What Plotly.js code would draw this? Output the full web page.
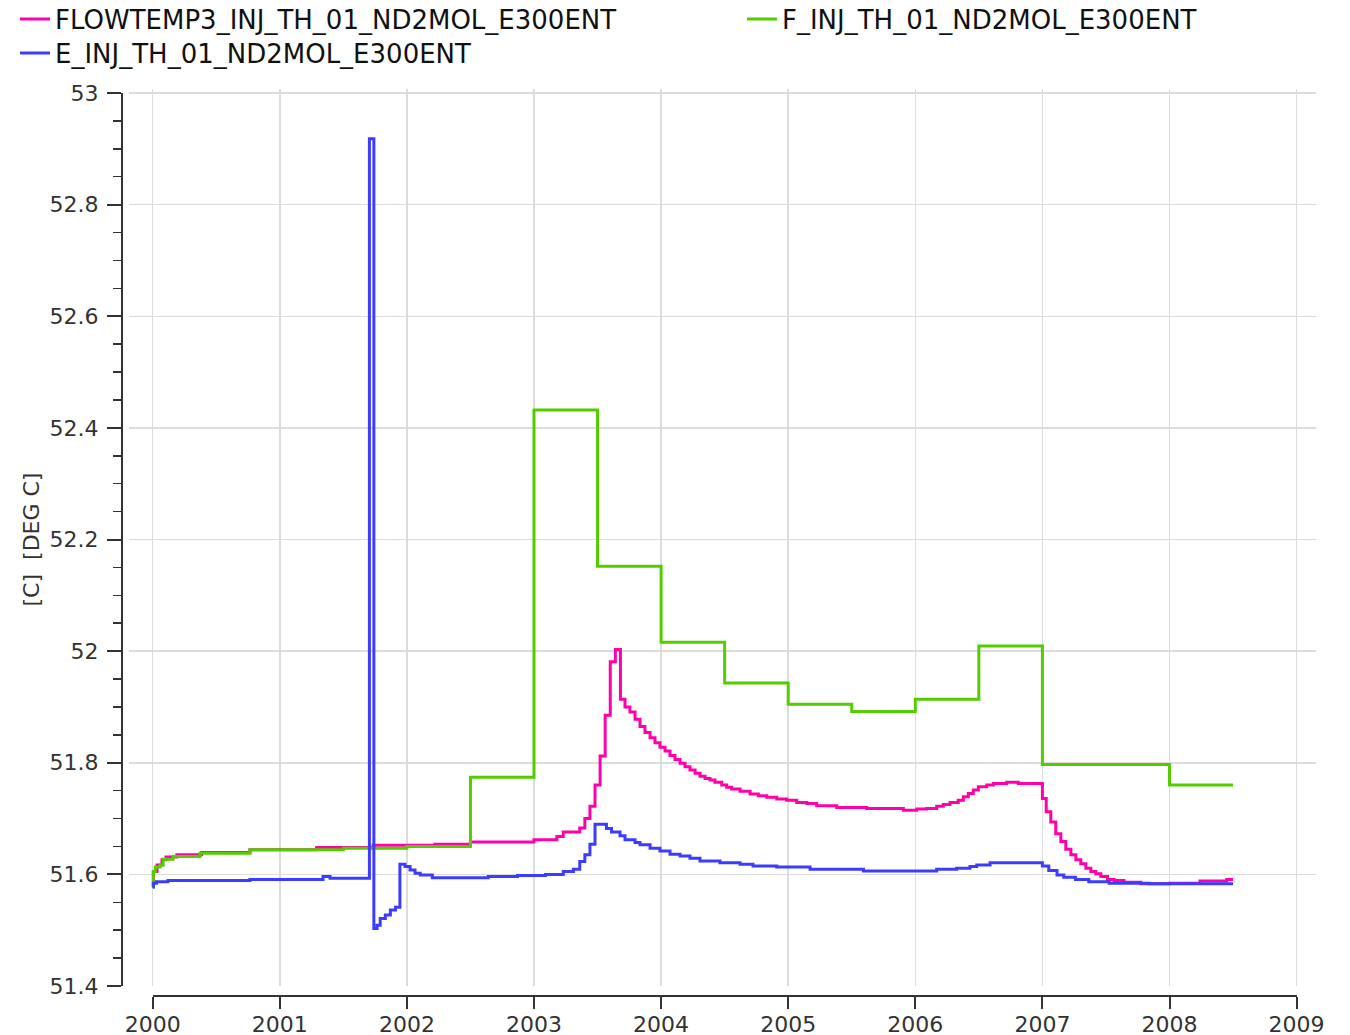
<!DOCTYPE html>
<html>
<head>
<meta charset="utf-8">
<script src="https://cdn.plot.ly/plotly-3.0.1.min.js"></script>
<style>
  html, body { margin: 0; padding: 0; background: #ffffff; }
  #chart { width: 1350px; height: 1035px; }
</style>
</head>
<body>
<div id="chart"></div>
<script>
// Injection temperature series (decimal years, deg C), drawn as step lines
const flowtempYears = [
  2000.000, 2000.005, 2000.034, 2000.073, 2000.105, 2000.190, 2000.385, 2000.765,
  2001.290, 2001.735, 2002.220, 2002.500, 2003.000, 2003.180, 2003.230, 2003.360,
  2003.400, 2003.440, 2003.480, 2003.520, 2003.560, 2003.600, 2003.640, 2003.680,
  2003.716, 2003.755, 2003.795, 2003.834, 2003.873, 2003.913, 2003.952, 2003.991,
  2004.031, 2004.070, 2004.109, 2004.149, 2004.188, 2004.227, 2004.267, 2004.306,
  2004.346, 2004.385, 2004.424, 2004.477, 2004.516, 2004.555, 2004.621, 2004.700,
  2004.765, 2004.831, 2004.910, 2004.988, 2005.067, 2005.146, 2005.224, 2005.382,
  2005.618, 2005.906, 2006.011, 2006.090, 2006.168, 2006.220, 2006.273, 2006.338,
  2006.378, 2006.417, 2006.456, 2006.496, 2006.562, 2006.614, 2006.719, 2006.810,
  2007.000, 2007.030, 2007.066, 2007.105, 2007.145, 2007.184, 2007.224, 2007.263,
  2007.302, 2007.342, 2007.381, 2007.420, 2007.460, 2007.512, 2007.564, 2007.642,
  2007.774, 2008.000, 2008.240, 2008.450, 2008.500
];
const flowtempValues = [
  51.578, 51.605, 51.617, 51.626, 51.631, 51.635, 51.639, 51.644,
  51.648, 51.652, 51.654, 51.658, 51.662, 51.668, 51.676, 51.683,
  51.700, 51.722, 51.760, 51.812, 51.885, 51.981, 52.003, 51.914,
  51.900, 51.891, 51.878, 51.865, 51.854, 51.845, 51.836, 51.828,
  51.821, 51.813, 51.806, 51.799, 51.793, 51.787, 51.781, 51.776,
  51.772, 51.769, 51.765, 51.760, 51.756, 51.753, 51.749, 51.744,
  51.741, 51.738, 51.735, 51.733, 51.729, 51.727, 51.723, 51.720,
  51.718, 51.715, 51.717, 51.718, 51.722, 51.725, 51.729, 51.733,
  51.739, 51.745, 51.751, 51.757, 51.760, 51.763, 51.765, 51.763,
  51.736, 51.712, 51.694, 51.673, 51.659, 51.645, 51.635, 51.626,
  51.619, 51.611, 51.605, 51.601, 51.596, 51.591, 51.589, 51.586,
  51.583, 51.584, 51.588, 51.591, 51.591
];

const fYears = [
  2000.000, 2000.005, 2000.020, 2000.058, 2000.082, 2000.160, 2000.372, 2000.765,
  2001.500, 2002.000, 2002.500, 2003.000, 2003.500, 2004.000, 2004.500, 2005.000,
  2005.500, 2006.000, 2006.500, 2007.000, 2008.000, 2008.500
];
const fValues = [
  51.577, 51.605, 51.613, 51.617, 51.627, 51.632, 51.638, 51.644,
  51.647, 51.650, 51.774, 52.432, 52.152, 52.016, 51.943, 51.905,
  51.892, 51.914, 52.009, 51.797, 51.760, 51.760
];

const eYears = [
  2000.000, 2000.005, 2000.030, 2000.120, 2000.765, 2001.340, 2001.395, 2001.705,
  2001.740, 2001.765, 2001.790, 2001.830, 2001.870, 2001.910, 2001.945, 2001.985,
  2002.025, 2002.064, 2002.105, 2002.200, 2002.640, 2002.870, 2003.090, 2003.230,
  2003.310, 2003.360, 2003.400, 2003.440, 2003.480, 2003.570, 2003.610, 2003.677,
  2003.716, 2003.795, 2003.834, 2003.913, 2003.991, 2004.070, 2004.149, 2004.227,
  2004.306, 2004.463, 2004.621, 2004.723, 2004.910, 2005.172, 2005.592, 2006.168,
  2006.325, 2006.430, 2006.483, 2006.588, 2007.000, 2007.050, 2007.115, 2007.168,
  2007.260, 2007.365, 2007.525, 2007.840, 2008.500
];
const eValues = [
  51.578, 51.584, 51.587, 51.589, 51.591, 51.596, 51.593, 52.918,
  51.503, 51.509, 51.521, 51.527, 51.536, 51.541, 51.618, 51.614,
  51.608, 51.602, 51.599, 51.594, 51.596, 51.598, 51.600, 51.605,
  51.609, 51.623, 51.635, 51.654, 51.690, 51.682, 51.676, 51.669,
  51.662, 51.657, 51.653, 51.647, 51.642, 51.636, 51.633, 51.629,
  51.624, 51.621, 51.618, 51.615, 51.613, 51.609, 51.606, 51.609,
  51.611, 51.614, 51.617, 51.621, 51.615, 51.607, 51.599, 51.595,
  51.591, 51.587, 51.584, 51.583, 51.583
];

const seriesNames = [
  'FLOWTEMP3_INJ_TH_01_ND2MOL_E300ENT',
  'F_INJ_TH_01_ND2MOL_E300ENT',
  'E_INJ_TH_01_ND2MOL_E300ENT'
];
const yTitle = '[C]\u00a0\u00a0[DEG C]';

// Frame geometry (px): the axis lines sit a little outside the gridded area
const FIG_W = 1350, FIG_H = 1035;
const paperL = 122, paperR = 1316, paperT = 89, paperB = 996;
const gridL = 129, gridB = 986;
const paperW = paperR - paperL, paperH = paperB - paperT;

const xRange = [1999.8135, 2009.1526];
const yRange = [51.4, 53.0072];
const xTicksSpan = [2000, 2009];
const yTicksSpan = [51.4, 53];

const xDom0 = (gridL - paperL) / paperW;
const yDom0 = (paperB - gridB) / paperH;
const xFrac = v => xDom0 + (v - xRange[0]) / (xRange[1] - xRange[0]) * (1 - xDom0);
const yFrac = v => yDom0 + (v - yRange[0]) / (yRange[1] - yRange[0]) * (1 - yDom0);
// legend placement helpers (px -> paper fraction)
const pxToPaperX = px => (px - paperL) / paperW;
const pxToPaperY = py => (paperB - py) / paperH;

const FONT = 'DejaVu Sans, Verdana, sans-serif';
const AXIS_COLOR = '#333333';
const GRID_COLOR = '#dcdcdc';

function stepTrace(x, y, name, color, legend) {
  return {
    type: 'scatter', mode: 'lines', x: x, y: y, name: name,
    line: { color: color, width: 3, shape: 'hv' },
    legend: legend, xaxis: 'x', yaxis: 'y', hoverinfo: 'x+y+name'
  };
}

const data = [
  stepTrace(flowtempYears, flowtempValues, seriesNames[0], '#ff00aa', 'legend'),
  stepTrace(fYears, fValues, seriesNames[1], '#55cc00', 'legend2'),
  stepTrace(eYears, eValues, seriesNames[2], '#3c3cff', 'legend3'),
  // empty carrier so the offset frame axes get their own subplot
  { type: 'scatter', mode: 'lines', x: [], y: [], xaxis: 'x2', yaxis: 'y2',
    showlegend: false, hoverinfo: 'skip' }
];

const legendFont = { family: FONT, size: 26, color: '#111111' };
function legendAt(leftPx, topPx) {
  return {
    orientation: 'v', x: pxToPaperX(leftPx), y: pxToPaperY(topPx),
    xanchor: 'left', yanchor: 'top',
    bgcolor: 'rgba(0,0,0,0)', borderwidth: 0, font: legendFont
  };
}

const layout = {
  width: FIG_W, height: FIG_H,
  margin: { l: paperL, r: FIG_W - paperR, t: paperT, b: FIG_H - paperB, autoexpand: false },
  paper_bgcolor: '#ffffff', plot_bgcolor: 'rgba(0,0,0,0)',
  font: { family: FONT, color: AXIS_COLOR },
  showlegend: true,
  // grid-carrying axes for the data
  xaxis: {
    domain: [xDom0, 1], range: xRange, tick0: 2000, dtick: 1,
    showgrid: true, gridcolor: GRID_COLOR, gridwidth: 1.5,
    showline: false, zeroline: false, showticklabels: false, ticks: ''
  },
  yaxis: {
    domain: [yDom0, 1], range: yRange, tick0: 51.4, dtick: 0.2,
    showgrid: true, gridcolor: GRID_COLOR, gridwidth: 1.5,
    showline: false, zeroline: false, showticklabels: false, ticks: ''
  },
  // offset frame axes carrying the ticks and labels
  xaxis2: {
    anchor: 'free', position: 0,
    domain: [xFrac(xTicksSpan[0]), xFrac(xTicksSpan[1])], range: xTicksSpan,
    tick0: 2000, dtick: 1, showgrid: false, zeroline: false,
    showline: true, linecolor: AXIS_COLOR, linewidth: 2,
    ticks: 'outside', ticklen: 12, tickwidth: 2, tickcolor: AXIS_COLOR,
    ticklabelstandoff: -3,
    tickfont: { family: FONT, size: 22, color: AXIS_COLOR }
  },
  yaxis2: {
    anchor: 'free', position: 0,
    domain: [yFrac(yTicksSpan[0]), yFrac(yTicksSpan[1])], range: yTicksSpan,
    tick0: 51.4, dtick: 0.2, showgrid: false, zeroline: false,
    showline: true, linecolor: AXIS_COLOR, linewidth: 2,
    ticks: 'outside', ticklen: 14, tickwidth: 2, tickcolor: AXIS_COLOR,
    minor: { dtick: 0.05, ticks: 'outside', ticklen: 8, tickwidth: 1.5, tickcolor: AXIS_COLOR, showgrid: false },
    tickfont: { family: FONT, size: 22, color: AXIS_COLOR },
    ticklabelstandoff: 4,
    title: { text: yTitle, font: { family: FONT, size: 22, color: AXIS_COLOR }, standoff: 3 }
  },
  legend: legendAt(15, -4.4),
  legend3: legendAt(15, 29.6),
  legend2: legendAt(742, -4.4)
};

Plotly.newPlot('chart', data, layout, { displayModeBar: false, staticPlot: true });
</script>
</body>
</html>
